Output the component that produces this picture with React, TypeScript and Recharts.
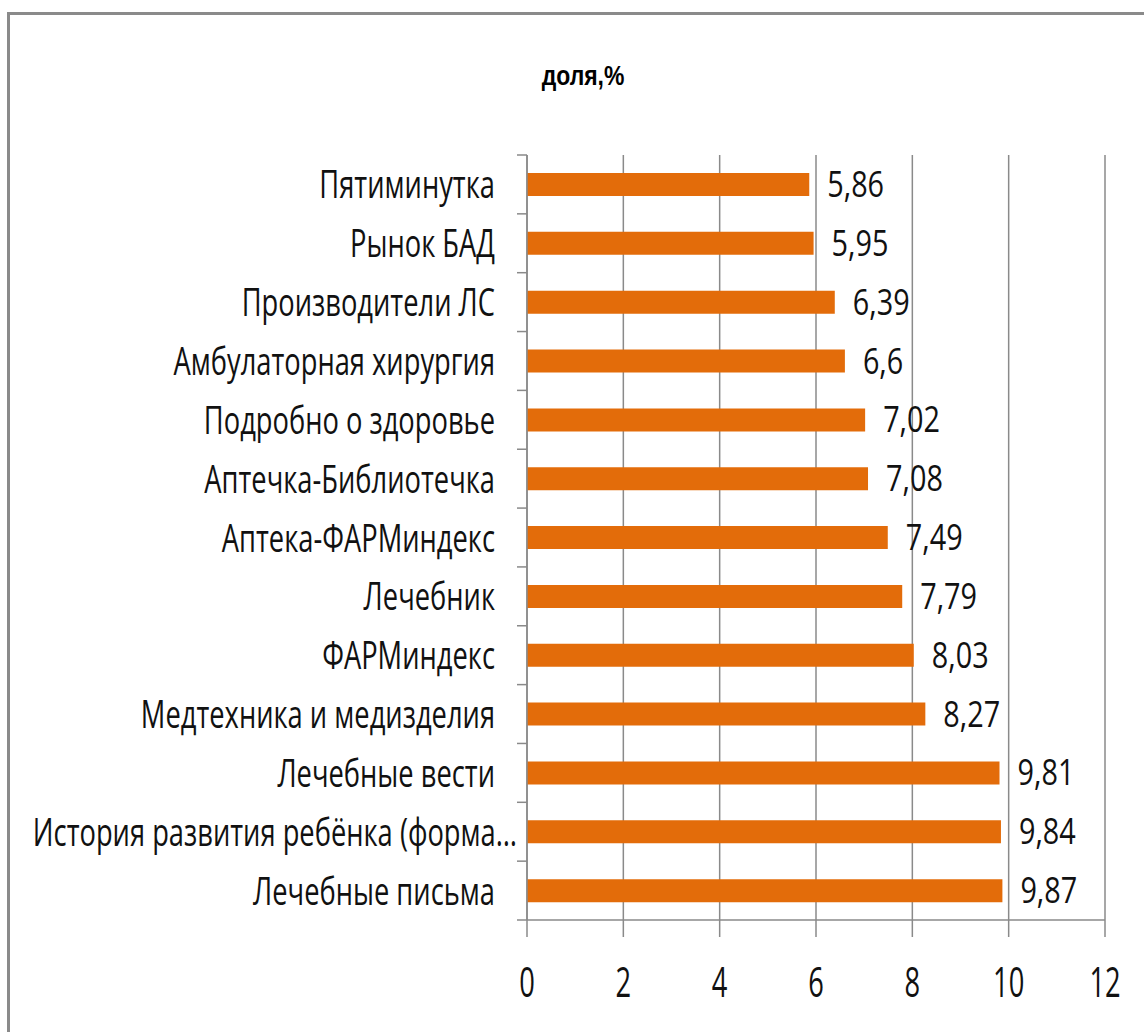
import React from 'react';
import { BarChart, Bar, XAxis, YAxis, CartesianGrid, LabelList } from 'recharts';

const categories = [
  'Пятиминутка',
  'Рынок БАД',
  'Производители ЛС',
  'Амбулаторная хирургия',
  'Подробно о здоровье',
  'Аптечка-Библиотечка',
  'Аптека-ФАРМиндекс',
  'Лечебник',
  'ФАРМиндекс',
  'Медтехника и медизделия',
  'Лечебные вести',
  'История развития ребёнка (форма…',
  'Лечебные письма',
];
const shares = [5.86, 5.95, 6.39, 6.6, 7.02, 7.08, 7.49, 7.79, 8.03, 8.27, 9.81, 9.84, 9.87];
const xTicks = [0, 2, 4, 6, 8, 10, 12];
const title = 'доля,%';

const data = categories.map((name, i) => ({ name, value: shares[i] }));

const W = 1140;
const H = 1020;
const PLOT_LEFT = 517;
const PLOT_RIGHT = 1095;
const PLOT_TOP = 140;
const PLOT_BOTTOM = 905;
const BAND = (PLOT_BOTTOM - PLOT_TOP) / categories.length;
const GRAY = '#8a8a8a';
const FONT = '"Open Sans", sans-serif';

const YTick = (props: any) => {
  const { y, payload, index } = props;
  const label: string = payload.value;
  const endX = label.endsWith('…') ? PLOT_LEFT - 10 : PLOT_LEFT - 32;
  const last = index === categories.length - 1;
  return (
    <g>
      <line x1={PLOT_LEFT - 10} x2={PLOT_LEFT} y1={y - BAND / 2} y2={y - BAND / 2} stroke={GRAY} strokeWidth={1.5} />
      {last && (
        <line x1={PLOT_LEFT - 10} x2={PLOT_LEFT} y1={y + BAND / 2} y2={y + BAND / 2} stroke={GRAY} strokeWidth={1.5} />
      )}
      <g transform={`translate(${endX},${y + 14}) scale(0.7,1)`}>
        <text x={0} y={0} textAnchor="end" fontFamily={FONT} fontSize={39} fill="#111">
          {label}
        </text>
      </g>
    </g>
  );
};

const XTick = (props: any) => {
  const { x, payload } = props;
  return (
    <g transform={`translate(${x},${PLOT_BOTTOM + 77}) scale(0.65,1)`}>
      <text x={0} y={0} textAnchor="middle" fontFamily={FONT} fontSize={42} fill="#111">
        {payload.value}
      </text>
    </g>
  );
};

const ValueLabel = (props: any) => {
  const { x, y, width, height, value } = props;
  const tx = x + width + 18;
  const ty = y + height / 2 + 12.5;
  return (
    <g transform={`translate(${tx},${ty}) scale(0.8,1)`}>
      <text x={0} y={0} textAnchor="start" fontFamily={FONT} fontSize={36} fill="#111">
        {String(value).replace('.', ',')}
      </text>
    </g>
  );
};

export default function App() {
  return (
    <div
      style={{
        position: 'fixed',
        left: 7,
        top: 12,
        width: 1160,
        height: 1040,
        border: `3px solid ${GRAY}`,
        background: '#fff',
        boxSizing: 'border-box',
      }}
    >
      <svg width={W} height={120} style={{ position: 'absolute', left: 0, top: 0, pointerEvents: 'none' }}>
        <g transform="translate(573,70) scale(0.85,1)">
          <text x={0} y={0} textAnchor="middle" fontFamily='"Liberation Sans", Arial, sans-serif' fontWeight="bold" fontSize={27} fill="#000">
            {title}
          </text>
        </g>
      </svg>
      <BarChart
        width={W}
        height={H}
        data={data}
        layout="vertical"
        margin={{ top: PLOT_TOP, right: W - PLOT_RIGHT, bottom: 35, left: 0 }}
        barSize={23}
      >
        <CartesianGrid horizontal={false} vertical={true} stroke={GRAY} strokeWidth={1.5} />
        <XAxis
          type="number"
          domain={[0, 12]}
          ticks={xTicks}
          height={80}
          tickSize={17}
          stroke={GRAY}
          axisLine={{ stroke: GRAY, strokeWidth: 1.5 }}
          tickLine={{ stroke: GRAY, strokeWidth: 1.5 }}
          tick={<XTick />}
          interval={0}
        />
        <YAxis
          type="category"
          dataKey="name"
          width={PLOT_LEFT}
          tickLine={false}
          axisLine={{ stroke: GRAY, strokeWidth: 1.5 }}
          tick={<YTick />}
          interval={0}
        />
        <Bar dataKey="value" fill="#E36C0A" isAnimationActive={false}>
          <LabelList dataKey="value" content={<ValueLabel />} />
        </Bar>
      </BarChart>
    </div>
  );
}
